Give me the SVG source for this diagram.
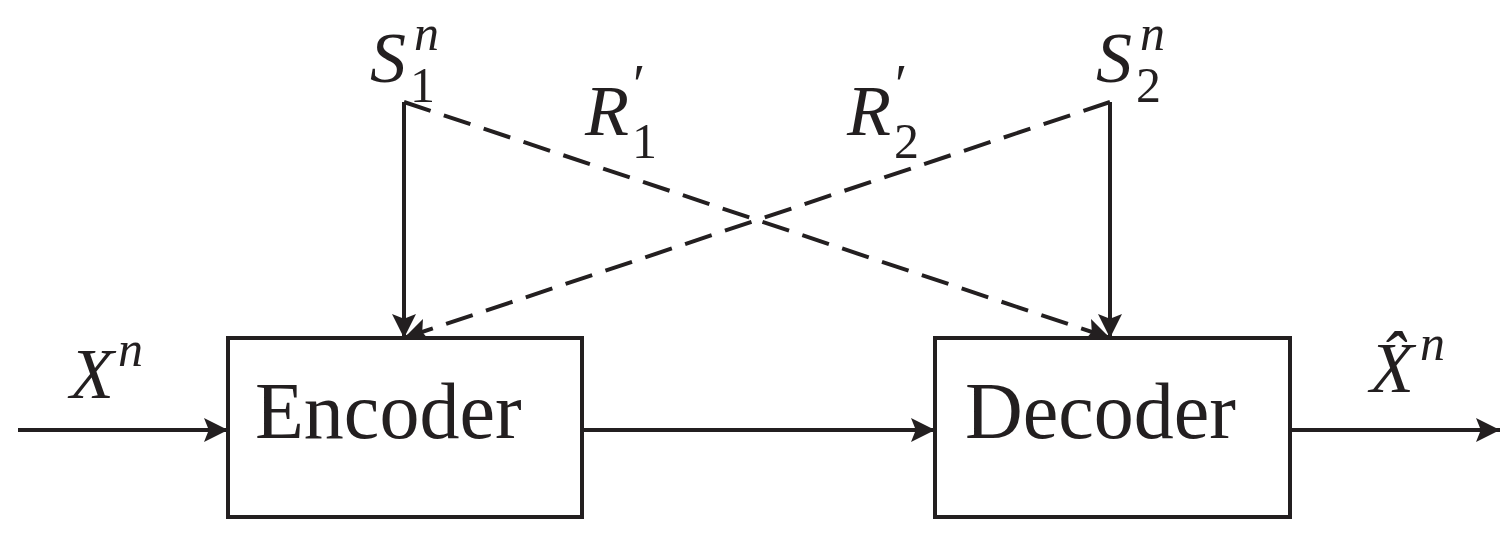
<svg xmlns="http://www.w3.org/2000/svg" width="1509" height="535" viewBox="0 0 1509 535">
<style>
.ln{stroke:#231f20;stroke-width:4;fill:none}
.ds{stroke:#231f20;stroke-width:4;fill:none;stroke-dasharray:28,14}
.bx{stroke:#231f20;stroke-width:4;fill:#fff}
.t{font-family:"Liberation Serif",serif;fill:#231f20}
.m{font-family:"Liberation Serif",serif;font-style:italic;fill:#231f20}
</style>
<defs>
<marker id="a" viewBox="0 0 10 10" refX="10" refY="5" markerWidth="6" markerHeight="6" markerUnits="strokeWidth" orient="auto"><path d="M0,0L10,5L0,10L2,5z" fill="#231f20"/></marker>
</defs>
<g id="connectors">
<path class="ln" d="M18,430H228" marker-end="url(#a)"/>
<path class="ln" d="M582,430H935" marker-end="url(#a)"/>
<path class="ln" d="M1290,430H1500" marker-end="url(#a)"/>
<path class="ln" d="M404,102V338" marker-end="url(#a)"/>
<path class="ln" d="M1110,102V338" marker-end="url(#a)"/>
<path class="ds" d="M404,102L1110,338" marker-end="url(#a)"/>
<path class="ds" d="M1110,102L404,338" marker-end="url(#a)"/>
</g>
<g id="encoder"><rect class="bx" x="228" y="338" width="354" height="179"/><text class="t" x="255" y="438" font-size="80">Encoder</text></g>
<g id="decoder"><rect class="bx" x="935" y="338" width="355" height="179"/><text class="t" x="965" y="438" font-size="80">Decoder</text></g>
<g id="labels">
<text class="m" x="370" y="82" font-size="72">S</text><text class="m" x="414" y="50" font-size="50">n</text><text class="t" x="410" y="102" font-size="50">1</text>
<text class="m" x="1096" y="82" font-size="72">S</text><text class="m" x="1140" y="50" font-size="50">n</text><text class="t" x="1136" y="102" font-size="50">2</text>
<text class="m" x="585" y="135" font-size="72">R</text><text class="t" x="633" y="104" font-size="56">′</text><text class="t" x="632" y="158" font-size="50">1</text>
<text class="m" x="847" y="135" font-size="72">R</text><text class="t" x="895" y="104" font-size="56">′</text><text class="t" x="894" y="158" font-size="50">2</text>
<text class="m" x="70" y="398" font-size="72">X</text><text class="m" x="118" y="366" font-size="50">n</text>
<text class="m" x="1370" y="392" font-size="72">X̂</text><text class="m" x="1420" y="360" font-size="50">n</text>
</g>
</svg>
